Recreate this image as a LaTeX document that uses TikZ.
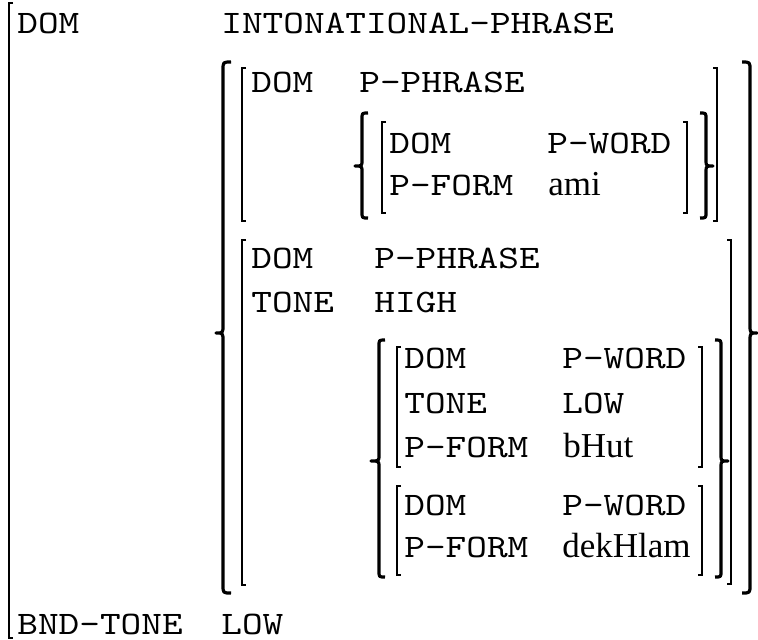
\documentclass[tikz,border=0pt]{standalone}
\usepackage{fontspec}
\setmainfont{Liberation Serif}
\usepackage{graphicx}
\usepackage{tikz}
\font\avmtt=cmtt10 at 16.4pt
\newcommand{\av}[1]{\scalebox{1.2}[1]{#1}}
\tikzset{
  attr/.style={anchor=base west, inner sep=0pt, text depth=0pt, font=\avmtt},
  val/.style={anchor=base west, inner sep=0pt,
    font=\rmfamily\fontsize{17.5}{20}\selectfont},
  brk/.style={line width=0.7pt},
  brc/.style={line width=1.6pt, line join=round},
}
% brace: spine x, tip x, top, middle, bottom, hook
\newcommand{\avmbrace}[6]{%
  \draw[brc] ({#1+#6},#3) .. controls (#1,#3) .. (#1,{#3+abs(#6)})
    -- (#1,{#4-abs(#6)}) .. controls (#1,#4) .. (#2,#4)
    .. controls (#1,#4) .. (#1,{#4+abs(#6)})
    -- (#1,{#5-abs(#6)}) .. controls (#1,#5) .. ({#1+#6},#5);}

\begin{document}
\begin{tikzpicture}[x=0.5pt, y=-0.5pt]
\useasboundingbox (0,0) rectangle (758,639);

% outer matrix
	\draw[brk, line width=1pt] (13,3) -| (9,638) -- (13,638);
	\node[attr] (ipDom) at (17,33) {\av{DOM}};
	\node[attr] (ipDomV) at (221,33) {\av{INTONATIONAL-PHRASE}};
	\node[attr] (ipBnd) at (17,634) {\av{BND-TONE}};
	\node[attr] (ipBndV) at (221,634) {\av{LOW}};

% big set braces
	\avmbrace{223}{216}{62}{333}{593}{8}
	\avmbrace{750}{757}{62}{333}{593}{-8}

% first p-phrase
	\draw[brk] (246,68) -| (242,221) -- (246,221);
	\draw[brk] (713,68) -| (717,221) -- (713,221);
	\node[attr] (pp1Dom) at (251,92) {\av{DOM}};
	\node[attr] (pp1DomV) at (359,92) {\av{P-PHRASE}};
	\avmbrace{362}{355}{113}{166}{218}{6}
	\avmbrace{706}{713}{113}{166}{218}{-6}
	\draw[brk] (386,122) -| (382,213) -- (386,213);
	\draw[brk] (683,122) -| (687,213) -- (683,213);
	\node[attr] (pw1Dom) at (389,153) {\av{DOM}};
	\node[attr] (pw1DomV) at (547,153) {\av{P-WORD}};
	\node[attr] (pw1Form) at (389,195) {\av{P-FORM}};
	\node[val] (pw1FormV) at (548,195) {ami};

% second p-phrase
	\draw[brk] (246,240) -| (242,585) -- (246,585);
	\draw[brk] (727,240) -| (731,584) -- (727,584);
	\node[attr] (pp2Dom) at (251,268) {\av{DOM}};
	\node[attr] (pp2DomV) at (374,268) {\av{P-PHRASE}};
	\node[attr] (pp2Tone) at (251,312) {\av{TONE}};
	\node[attr] (pp2ToneV) at (374,312) {\av{HIGH}};
	\avmbrace{379}{371}{340}{461}{577}{6}
	\avmbrace{721}{728}{340}{461}{577}{-6}

	\draw[brk] (401,347) -| (397,467) -- (401,467);
	\draw[brk] (698,347) -| (702,467) -- (698,467);
	\node[attr] (pw2Dom) at (404,368) {\av{DOM}};
	\node[attr] (pw2DomV) at (562,368) {\av{P-WORD}};
	\node[attr] (pw2Tone) at (404,413) {\av{TONE}};
	\node[attr] (pw2ToneV) at (562,413) {\av{LOW}};
	\node[attr] (pw2Form) at (404,457) {\av{P-FORM}};
	\node[val] (pw2FormV) at (563,457) {bHut};

	\draw[brk] (401,486) -| (397,575) -- (401,575);
	\draw[brk] (698,486) -| (702,575) -- (698,575);
	\node[attr] (pw3Dom) at (404,515) {\av{DOM}};
	\node[attr] (pw3DomV) at (562,515) {\av{P-WORD}};
	\node[attr] (pw3Form) at (404,557) {\av{P-FORM}};
	\node[val] (pw3FormV) at (562,557) {dekHlam};
\end{tikzpicture}
\end{document}
